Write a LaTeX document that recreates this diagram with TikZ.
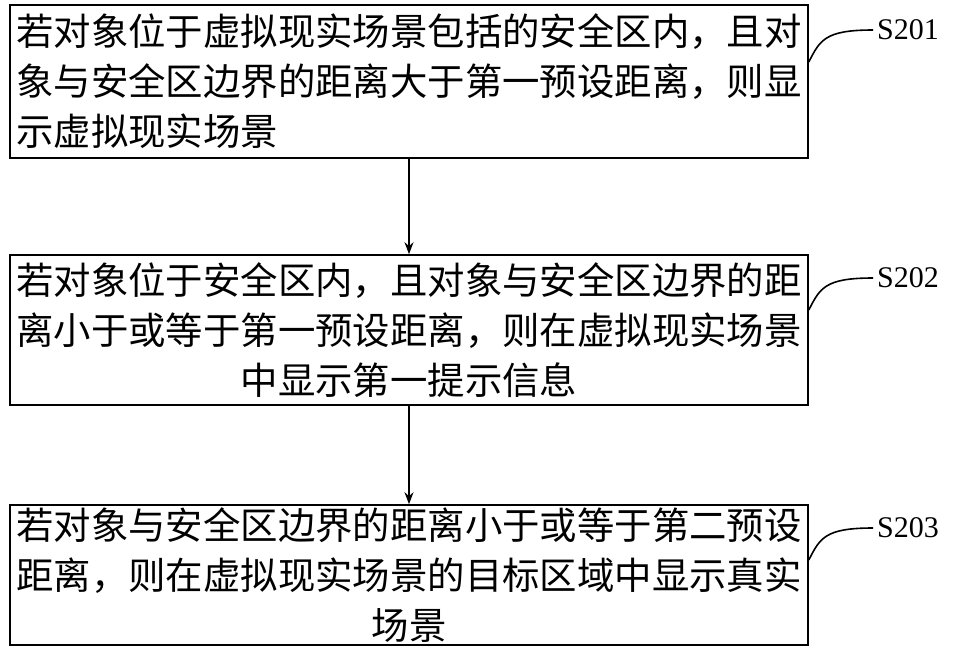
\documentclass[tikz,border=0pt]{standalone}
\usepackage{fontspec}
\newfontfamily\cjk{Noto Sans CJK SC}
\setmainfont{Liberation Serif}
\usetikzlibrary{arrows.meta,positioning}
\tikzset {>={Stealth[length=12pt,width=9pt]}}
\tikzset{stepbox/.style={draw,line width=1.6pt,minimum width=798pt,inner sep=0pt,font=\cjk\fontsize{37.4}{50}\selectfont},
  tag/.style={font=\fontsize{30}{30}\selectfont,anchor=west}}
\begin{document}
\begin{tikzpicture}[x=1pt,y=-1pt,line width=1.6pt]
\useasboundingbox (0,0) rectangle (960,654);
\node[stepbox,minimum height=153pt,align=left] (s1) at (409,81.5) {若对象位于虚拟现实场景包括的安全区内，且对\\象与安全区边界的距离大于第一预设距离，则显\\示虚拟现实场景\hspace*{523pt}};
\node[stepbox,minimum height=150pt,align=center] (s2) at (409,330) {若对象位于安全区内，且对象与安全区边界的距\\离小于或等于第一预设距离，则在虚拟现实场景\\中显示第一提示信息};
\node[stepbox,minimum height=140pt,align=center] (s3) at (409,575) {若对象与安全区边界的距离小于或等于第二预设\\距离，则在虚拟现实场景的目标区域中显示真实\\场景};
\draw[->] (s1) -- (s2);
\draw[->] (s2) -- (s3);
% step tags
\node[tag] (t1) at (873,30) {S201};
\node[tag] (t2) at (873,278) {S202};
\node[tag] (t3) at (873,528) {S203};
\draw (s1.east |- 0,62) .. controls (820,40) and (825,30) .. (t1.west);
\draw (s2.east |- 0,310) .. controls (820,288) and (825,278) .. (t2.west);
\draw (s3.east |- 0,560) .. controls (820,538) and (825,528) .. (t3.west);
\end{tikzpicture}
\end{document}
